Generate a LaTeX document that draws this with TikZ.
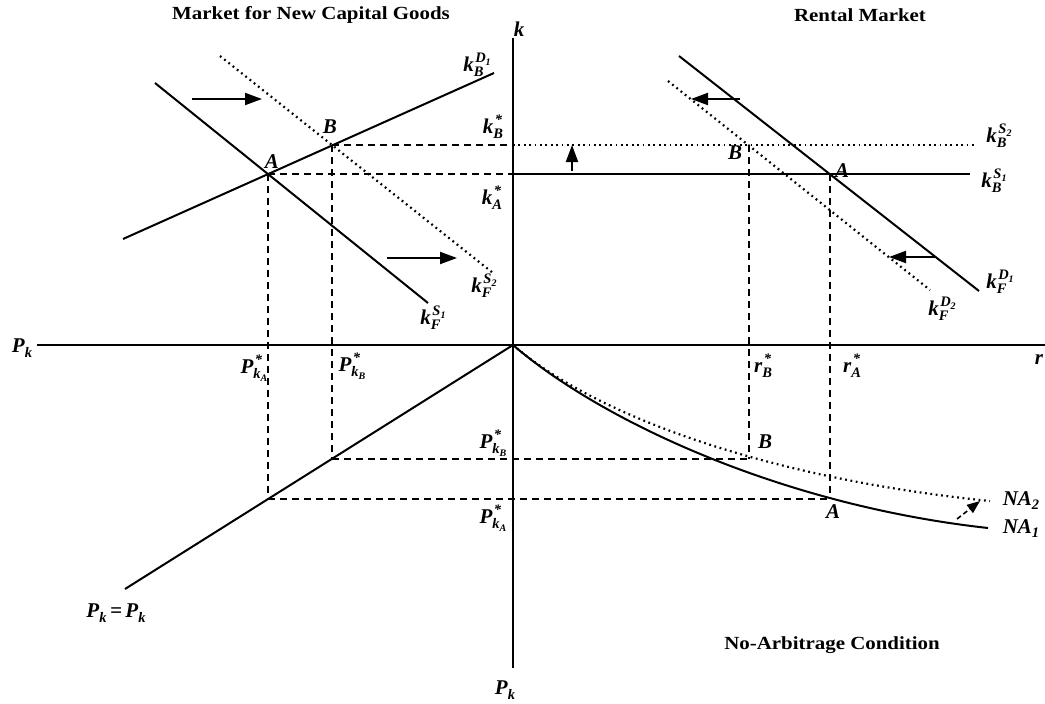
\documentclass[tikz,border=0pt]{standalone}
\usepackage{fontspec}
\setmainfont{Liberation Serif}
\usepackage{graphicx}
\usetikzlibrary{arrows.meta,intersections}
\newcommand\smf{\fontsize{14.5}{14.5}\selectfont}
\newcommand\tnf{\fontsize{10}{10}\selectfont}
\newcommand\idx[2]{#1\raisebox{-2.5pt}{\tnf #2}}
\newcommand\lbl[3]{#1\setbox0\hbox{\smf\raisebox{-5.5pt}{#2}}\setbox2\hbox{\smf\kern1.5pt\raisebox{8.5pt}{#3}}\ifdim\wd0>\wd2 \rlap{\box2}\box0 \else\rlap{\box0}\box2 \fi}
\begin{document}
\begin{tikzpicture}[x=1pt,y=-1pt,
  ln/.style={line width=2pt},
  ax/.style={line width=2.4pt},
  dsh/.style={line width=2pt, dash pattern=on 7pt off 5pt},
  dotln/.style={line width=2.2pt, dash pattern=on 1.8pt off 3.6pt},
  arr/.style={line width=2pt, -{Triangle[length=17pt,width=12pt]}},
  sarr/.style={line width=1.6pt, dash pattern=on 5pt off 3pt, -{Triangle[length=13pt,width=10pt]}},
  lab/.style={font=\fontsize{21}{21}\selectfont\bfseries\itshape, inner sep=0pt},
  ttl/.style={font=\fontsize{18.5}{18.5}\selectfont\bfseries, inner sep=0pt}]
\useasboundingbox (0,0) rectangle (1045,704);

% axes
\coordinate (O) at (513,345);
\coordinate (Ktop) at (513,38);
\coordinate (Kbot) at (513,668);
\coordinate (Hl) at (37,345);
\coordinate (Hr) at (1045,345);
\draw[ax] (Ktop) -- (Kbot);
\draw[ax] (Hl) -- (Hr);

% market for new capital goods
\coordinate (S1a) at (155,83);  \coordinate (S1b) at (428,303);
\coordinate (S2a) at (220,56);  \coordinate (S2b) at (493,273);
\coordinate (D1a) at (123,239); \coordinate (D1b) at (494,73);
\draw[ln, name path=S1] (S1a) -- (S1b);
\draw[dotln, name path=S2] (S2a) -- (S2b);
\draw[ln, name path=D1] (D1a) -- (D1b);
\path[name intersections={of=S1 and D1, by=A}];
\path[name intersections={of=S2 and D1, by=B}];

% rental market
\coordinate (FD1a) at (679,56); \coordinate (FD1b) at (979,291);
\coordinate (FD2a) at (668,81); \coordinate (FD2b) at (930,290);
\draw[ln, name path=FD1] (FD1a) -- (FD1b);
\draw[dotln, name path=FD2] (FD2a) -- (FD2b);
\coordinate (R1) at (970,0);
\coordinate (R2) at (977,0);
\draw[ln, name path=HA] (A -| O) -- (A -| R1);
\draw[dotln, name path=HB] (B -| O) -- (B -| R2);
\draw[dsh] (A) -- (A -| O);
\draw[dsh] (B) -- (B -| O);
\path[name intersections={of=FD1 and HA, by=Ar}];
\path[name intersections={of=FD2 and HB, by=Br}];

% 45 degree line
\coordinate (Dg) at (125,589);
\draw[ln, name path=DG] (O) -- (Dg);
\path[name path=VA] (A) -- (A |- Kbot);
\path[name path=VB] (B) -- (B |- Kbot);
\path[name intersections={of=VA and DG, by=Ad}];
\path[name intersections={of=VB and DG, by=Bd}];
\coordinate (Al) at (Ad -| Ar);
\coordinate (Bl) at (Bd -| Br);
\draw[dsh] (A) -- (Ad);
\draw[dsh] (B) -- (Bd);
\draw[dsh] (Ad) -- (Al);
\draw[dsh] (Bd) -- (Bl);
\draw[dsh] (Ar) -- (Al);
\draw[dsh] (Br) -- (Bl);

% no-arbitrage curves
\coordinate (NA1e) at (988,528);
\coordinate (NA2e) at (990,501);
\draw[ln] (O) .. controls (600,420) and (780,505) .. (NA1e);
\draw[dotln] (O) .. controls (600,420) and (780,480) .. (NA2e);

% shift arrows
\coordinate (a1s) at (192,99);  \coordinate (a1e) at (262,99);
\coordinate (a2s) at (387,258); \coordinate (a2e) at (457,258);
\coordinate (a3s) at (572,171); \coordinate (a3e) at (572,145);
\coordinate (a4s) at (740,99);  \coordinate (a4e) at (691,99);
\coordinate (a5s) at (935,257); \coordinate (a5e) at (889,257);
\coordinate (a6s) at (957,519); \coordinate (a6e) at (980,501);
\draw[arr] (a1s) -- (a1e);
\draw[arr] (a2s) -- (a2e);
\draw[arr] (a3s) -- (a3e);
\draw[arr] (a4s) -- (a4e);
\draw[arr] (a5s) -- (a5e);
\draw[sarr] (a6s) -- (a6e);

% titles
\node[ttl] (t1) at (311,15) {\scalebox{1.13}[1]{Market for New Capital Goods}};
\node[ttl] (t2) at (860,15) {\scalebox{1.13}[1]{Rental Market}};
\node[ttl] (t3) at (832,645) {\scalebox{1.13}[1]{No-Arbitrage Condition}};

% axis labels
\node[lab] (lk) at (519,29) {k};
\node[lab] (lpk) at (22,348) {\lbl{P}{k}{}};
\node[lab] (lr) at (1039,360) {r};
\node[lab] (lpb) at (505,690) {\lbl{P}{k}{}};

% upper left labels
\node[lab] (lkbd1) at (477,65) {\lbl{k}{B}{\idx{D}{1}}};
\node[lab] (lkbs) at (493,127) {\lbl{k}{B}{*}};
\node[lab] (lkas) at (492,198) {\lbl{k}{A}{*}};
\node[lab] (lkfs2) at (484,286) {\lbl{k}{F}{\idx{S}{2}}};
\node[lab] (lkfs1) at (433,318) {\lbl{k}{F}{\idx{S}{1}}};
\node[lab] (lA1) at (272,162) {A};
\node[lab] (lB1) at (330,127) {B};

% upper right labels
\node[lab] (lkbs2) at (999,136) {\lbl{k}{B}{\idx{S}{2}}};
\node[lab] (lkbs1) at (994,181) {\lbl{k}{B}{\idx{S}{1}}};
\node[lab] (lkfd1) at (1000,282) {\lbl{k}{F}{\idx{D}{1}}};
\node[lab] (lkfd2) at (942,309) {\lbl{k}{F}{\idx{D}{2}}};
\node[lab] (lA2) at (842,171) {A};
\node[lab] (lB2) at (735,153) {B};

% horizontal axis labels
\node[lab] (lpka) at (254,368) {\lbl{P}{\idx{k}{A}}{*}};
\node[lab] (lpkb) at (352,366) {\lbl{P}{\idx{k}{B}}{*}};
\node[lab] (lrb) at (763,366) {\lbl{r}{B}{*}};
\node[lab] (lra) at (852,366) {\lbl{r}{A}{*}};

% lower labels
\node[lab] (lpkb2) at (493,443) {\lbl{P}{\idx{k}{B}}{*}};
\node[lab] (lpka2) at (493,518) {\lbl{P}{\idx{k}{A}}{*}};
\node[lab] (lB3) at (765,442) {B};
\node[lab] (lA3) at (833,512) {A};
\node[lab] (lna2) at (1021,501) {NA\raisebox{-4pt}{\smf 2}};
\node[lab] (lna1) at (1021,529) {NA\raisebox{-4pt}{\smf 1}};
\node[lab] (lpp) at (116,613) {\lbl{P}{k}{}\,=\,\lbl{P}{k}{}};
\end{tikzpicture}
\end{document}
